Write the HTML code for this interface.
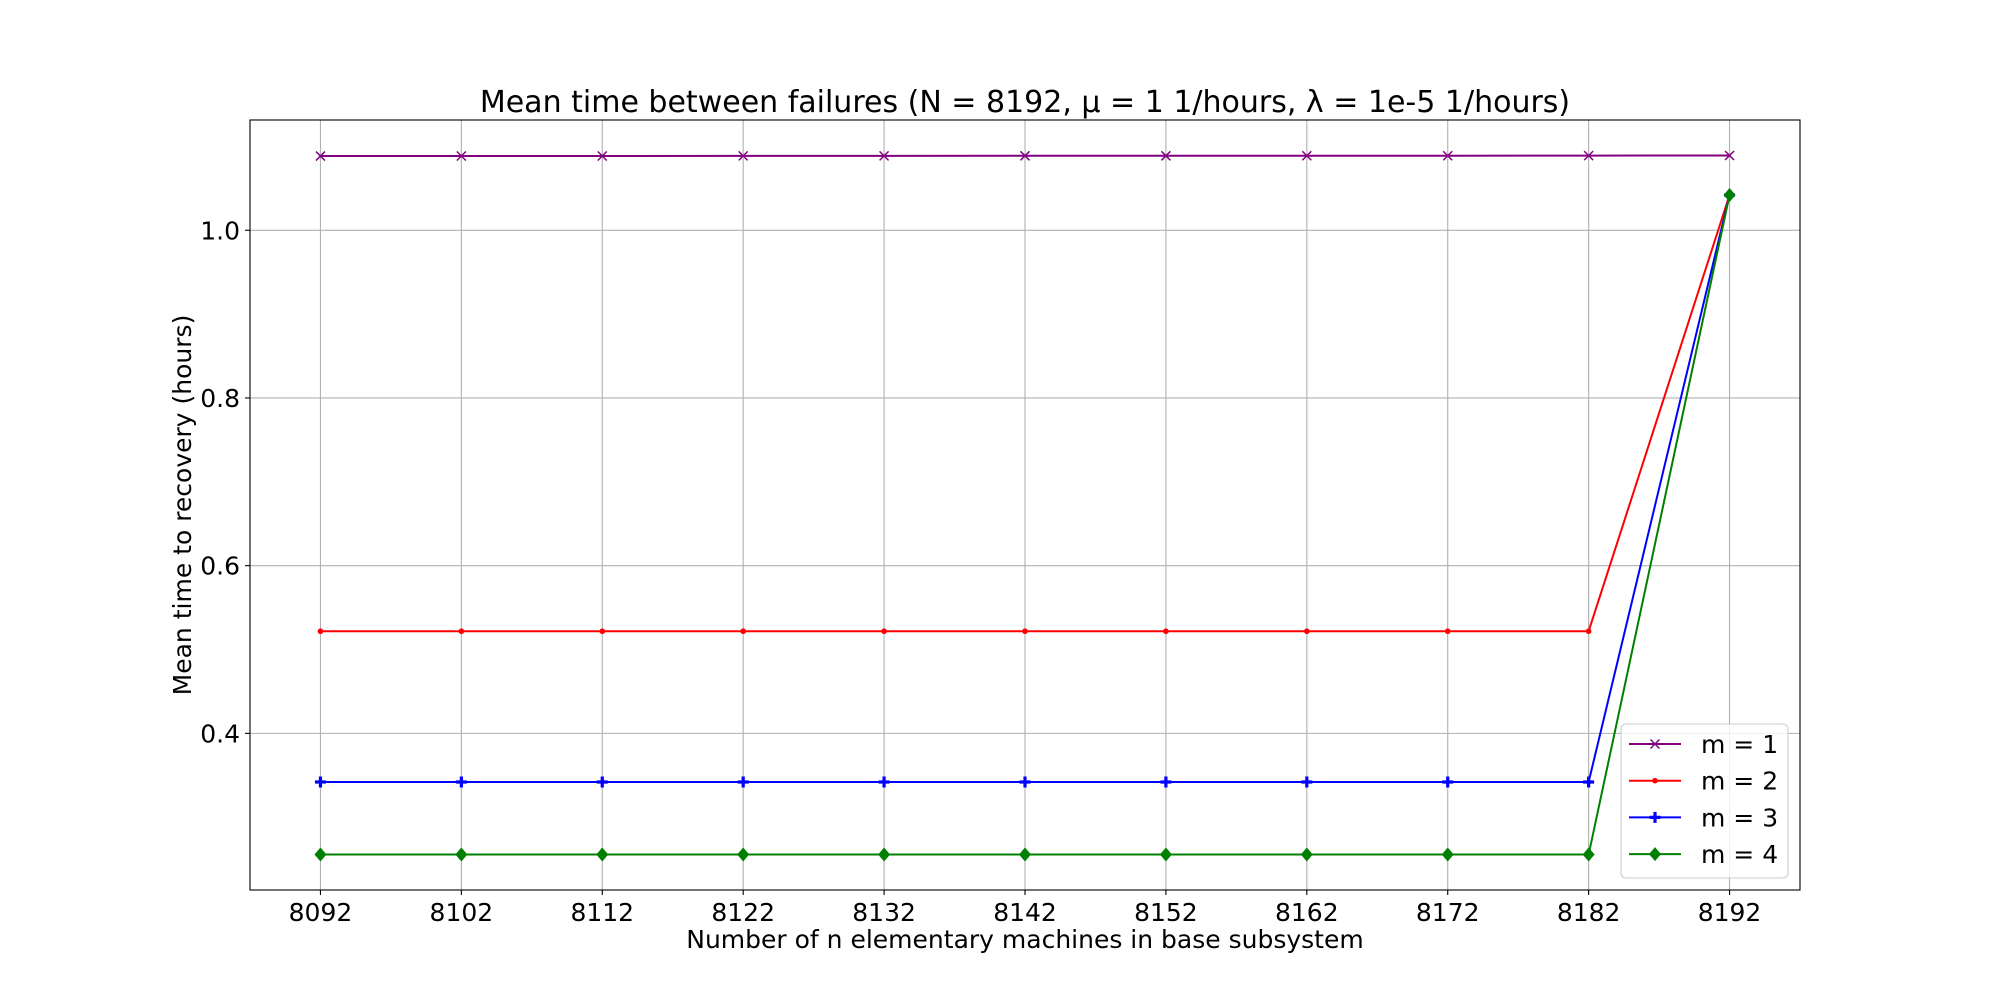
<!DOCTYPE html>
<html><head><meta charset="utf-8"><style>
html,body{margin:0;padding:0;background:#fff;}
svg text{font-family:"DejaVu Sans","Liberation Sans",sans-serif;fill:#000;}
</style></head><body>
<svg id="chart" width="2000" height="1000" xmlns="http://www.w3.org/2000/svg">
<rect width="2000" height="1000" fill="#fff"/>
<g id="grid"></g><g id="series"></g><g id="axes"></g><g id="legend"></g>
</svg>
<script>
const categories=[8092,8102,8112,8122,8132,8142,8152,8162,8172,8182,8192];
const m1=[1.0885,1.0886,1.0886,1.0887,1.0887,1.0888,1.0888,1.0889,1.0889,1.089,1.0892];
const m2=[0.5218,0.5218,0.5218,0.5218,0.5218,0.5218,0.5218,0.5218,0.5218,0.5218,1.042];
const m3=[0.342,0.342,0.342,0.342,0.342,0.342,0.342,0.342,0.342,0.342,1.042];
const m4=[0.2555,0.2555,0.2555,0.2555,0.2555,0.2555,0.2555,0.2555,0.2555,0.2555,1.042];
const yTicks=[0.4,0.6,0.8,1.0];
const yTickLabels=["0.4","0.6","0.8","1.0"];
const seriesNames=["m = 1","m = 2","m = 3","m = 4"];
const NS="http://www.w3.org/2000/svg";
const L=250,R=1800,T=120,B=890;
const xmin=8087,xmax=8197,ymin=0.2132,ymax=1.1315;
function X(v){return L+(v-xmin)/(xmax-xmin)*(R-L);}
function Y(v){return B-(v-ymin)/(ymax-ymin)*(B-T);}
function mk(tag,attrs,parent){const e=document.createElementNS(NS,tag);for(const k in attrs)e.setAttribute(k,attrs[k]);parent.appendChild(e);return e;}
const grid=document.getElementById('grid'),axes=document.getElementById('axes'),ser=document.getElementById('series'),leg=document.getElementById('legend');
categories.forEach(c=>{
 const g=mk('line',{x1:X(c),x2:X(c),y1:T,y2:B,stroke:'#b0b0b0','stroke-width':1.1},grid);
 
 
 const t=mk('line',{x1:X(c),x2:X(c),y1:B,y2:B+5,stroke:'#000','stroke-width':1.1},axes);
 
 
 const tx=mk('text',{x:X(c),y:B+31,'font-size':25,'text-anchor':'middle'},axes);tx.textContent=c;
 
 
});
yTicks.forEach((v,i)=>{
 const g=mk('line',{x1:L,x2:R,y1:Y(v),y2:Y(v),stroke:'#b0b0b0','stroke-width':1.1},grid);
 
 
 const t=mk('line',{x1:L-5,x2:L,y1:Y(v),y2:Y(v),stroke:'#000','stroke-width':1.1},axes);
 
 
 const tx=mk('text',{x:L-10,y:Y(v)+9,'font-size':25,'text-anchor':'end'},axes);tx.textContent=yTickLabels[i];
 
 
});
const frame=mk('rect',{x:L,y:T,width:R-L,height:B-T,fill:'none',stroke:'#000','stroke-width':1.1},axes);


const title=mk('text',{x:(L+R)/2,y:112,'font-size':30,'text-anchor':'middle'},axes);
title.textContent='Mean time between failures (N = 8192, μ = 1 1/hours, λ = 1e-5 1/hours)';


const xl=mk('text',{x:(L+R)/2,y:948,'font-size':25,'text-anchor':'middle'},axes);
xl.textContent='Number of n elementary machines in base subsystem';


const yl=mk('text',{x:0,y:0,'font-size':25,'text-anchor':'middle',transform:'translate(191,505) rotate(-90)'},axes);
yl.textContent='Mean time to recovery (hours)';


function marker(type,x,y,color,parent){
 let e;
 if(type==='x'){e=mk('path',{d:`M${x-4.5},${y-4.5}L${x+4.5},${y+4.5}M${x-4.5},${y+4.5}L${x+4.5},${y-4.5}`,stroke:color,'stroke-width':1.5,fill:'none'},parent);}
 else if(type==='.'){e=mk('circle',{cx:x,cy:y,r:2.8,fill:color},parent);}
 else if(type==='P'){e=mk('path',{d:`M${x-5.5},${y}L${x+5.5},${y}M${x},${y-5.5}L${x},${y+5.5}`,stroke:color,'stroke-width':3.2,fill:'none'},parent);}
 else {e=mk('path',{d:`M${x},${y-7}L${x+6},${y}L${x},${y+7}L${x-6},${y}Z`,fill:color},parent);}
 return e;
}
const all=[[m1,'#800080','x'],[m2,'#ff0000','.'],[m3,'#0000ff','P'],[m4,'#008000','D']];
all.forEach((s,si)=>{
 const [vals,color,mt]=s;
 const p=mk('polyline',{points:vals.map((v,i)=>X(categories[i])+','+Y(v)).join(' '),fill:'none',stroke:color,'stroke-width':2},ser);
 
 
 vals.forEach((v,i)=>{
  const m=marker(mt,X(categories[i]),Y(v),color,ser);
  
  
 });
});
const lb=mk('rect',{x:1621,y:724,width:167,height:154,rx:5,fill:'#fff','fill-opacity':0.8,stroke:'#cccccc','stroke-width':1.1},leg);


all.forEach((s,si)=>{
 const y=744+si*36.7;
 const g=mk('g',{},leg);
 
 
 mk('line',{x1:1629,x2:1681,y1:y,y2:y,stroke:s[1],'stroke-width':2},g);
 marker(s[2],1655,y,s[1],g);
 const t=mk('text',{x:1701,y:y+9,'font-size':25},g);t.textContent=seriesNames[si];
});
</script>
</body></html>
